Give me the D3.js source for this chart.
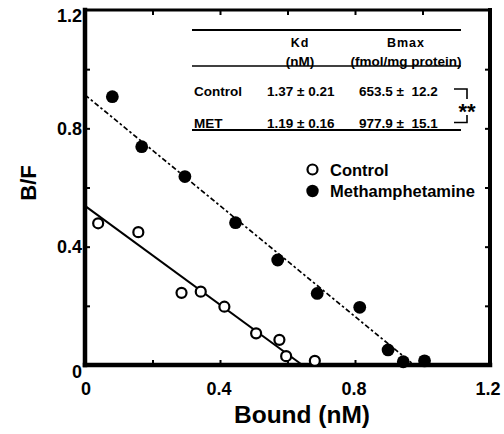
<!DOCTYPE html>
<html>
<head>
<meta charset="utf-8">
<script src="https://cdn.jsdelivr.net/npm/d3@7"></script>
<style>
  html, body { margin: 0; padding: 0; background: #fff; }
  svg { display: block; font-family: "Liberation Sans", Arial, sans-serif; font-weight: bold; }
</style>
</head>
<body>
<svg id="chart" width="504" height="434"></svg>
<script>
// Scatchard data: bound (nM) vs bound/free
const controlBound = [0.039, 0.158, 0.286, 0.343, 0.413, 0.507, 0.576, 0.596, 0.681];
const controlBF    = [0.479, 0.449, 0.244, 0.248, 0.197, 0.107, 0.085, 0.030, 0.014];
const metBound = [0.081, 0.168, 0.296, 0.446, 0.571, 0.688, 0.814, 0.898, 0.943, 1.006];
const metBF    = [0.907, 0.738, 0.637, 0.481, 0.355, 0.242, 0.195, 0.051, 0.011, 0.014];

// Regression lines (bound, B/F) end points
const controlFitX = [0, 0.644];
const controlFitY = [0.538, 0];
const metFitX = [0, 0.975];
const metFitY = [0.913, 0];

// Axis ticks
const majorTicks = [0, 0.4, 0.8, 1.2];
const minorTicks = [0.2, 0.4, 0.6, 0.8, 1.0];

// Summary table
const tableHeaders = [["Kd", "(nM)"], ["Bmax", "(fmol/mg protein)"]];
const tableRows = ["Control", "MET"];
const kdValues = ["1.37 \u00b1 0.21", "1.19 \u00b1 0.16"];
const bmaxValues = ["653.5 \u00b1  12.2", "977.9 \u00b1  15.1"];
const legendLabels = ["Control", "Methamphetamine"];

const svg = d3.select("#chart");
const x = d3.scaleLinear().domain([0, 1.2]).range([85, 490]);
const y = d3.scaleLinear().domain([0, 1.2]).range([365, 10]);

// inward minor ticks on all four sides
const tickStyle = g => {
  g.select(".domain").remove();
  g.selectAll(".tick line").attr("stroke", "#000").attr("stroke-width", 2);
  g.selectAll(".tick text").remove();
};
svg.append("g").attr("transform", `translate(${x(0)},0)`)
  .call(d3.axisLeft(y).tickValues(minorTicks).tickSize(-5)).call(tickStyle);
svg.append("g").attr("transform", `translate(${x(1.2)},0)`)
  .call(d3.axisRight(y).tickValues(minorTicks).tickSize(-5)).call(tickStyle);
svg.append("g").attr("transform", `translate(0,${y(0)})`)
  .call(d3.axisBottom(x).tickValues(minorTicks).tickSize(-5)).call(tickStyle);
svg.append("g").attr("transform", `translate(0,${y(1.2)})`)
  .call(d3.axisTop(x).tickValues(minorTicks).tickSize(-5)).call(tickStyle);

// frame
const frame = svg.append("g").attr("stroke", "#000").attr("stroke-linecap", "square");
frame.append("line").attr("x1", x(0)).attr("x2", x(0)).attr("y1", y(1.2)).attr("y2", y(0)).attr("stroke-width", 4.5);
frame.append("line").attr("x1", x(0)).attr("x2", x(1.2)).attr("y1", y(0)).attr("y2", y(0)).attr("stroke-width", 4.5);
frame.append("line").attr("x1", x(1.2)).attr("x2", x(1.2)).attr("y1", y(1.2)).attr("y2", y(0)).attr("stroke-width", 4);
frame.append("line").attr("x1", x(0)).attr("x2", x(1.2)).attr("y1", y(1.2)).attr("y2", y(1.2)).attr("stroke-width", 3);

// tick labels
svg.append("g").selectAll("text").data(majorTicks).join("text")
  .attr("x", 82).attr("y", d => y(d) + 6.5 + (d === 0 ? 6 : d === 1.2 ? 5 : 0))
  .attr("text-anchor", "end").attr("font-size", 18)
  .text(d => d === 0 ? "0" : d3.format(".1f")(d));
svg.append("g").selectAll("text").data(majorTicks).join("text")
  .attr("x", d => x(d) + (d === 0 ? 1 : d === 1.2 ? -2 : -1)).attr("y", 395)
  .attr("text-anchor", "middle").attr("font-size", 18)
  .text(d => d === 0 ? "0" : d3.format(".1f")(d));

// axis titles
svg.append("text").attr("x", 302).attr("y", 423).attr("text-anchor", "middle")
  .attr("font-size", 24.5).text("Bound (nM)");
svg.append("text").attr("transform", "translate(36,183) rotate(-90)")
  .attr("text-anchor", "middle").attr("font-size", 22).text("B/F");

// fitted lines
const line = d3.line().x(d => x(d[0])).y(d => y(d[1]));
svg.append("path").datum(d3.zip(controlFitX, controlFitY)).attr("d", line)
  .attr("fill", "none").attr("stroke", "#000").attr("stroke-width", 2);
svg.append("path").datum(d3.zip(metFitX, metFitY)).attr("d", line)
  .attr("fill", "none").attr("stroke", "#000").attr("stroke-width", 1.7)
  .attr("stroke-dasharray", "5,2.5,2.5,2.5");

// points
svg.append("g").selectAll("circle").data(d3.zip(controlBound, controlBF)).join("circle")
  .attr("cx", d => x(d[0])).attr("cy", d => y(d[1])).attr("r", 5)
  .attr("fill", "#fff").attr("stroke", "#000").attr("stroke-width", 2.2);
svg.append("g").selectAll("circle").data(d3.zip(metBound, metBF)).join("circle")
  .attr("cx", d => x(d[0])).attr("cy", d => y(d[1])).attr("r", 6.4)
  .attr("fill", "#000");

// legend
svg.append("circle").attr("cx", 312.5).attr("cy", 169.5).attr("r", 5)
  .attr("fill", "#fff").attr("stroke", "#000").attr("stroke-width", 2.2);
svg.append("circle").attr("cx", 312.5).attr("cy", 191).attr("r", 6.2).attr("fill", "#000");
svg.append("g").selectAll("text").data(legendLabels).join("text")
  .attr("x", 330).attr("y", (d, i) => 175.5 + i * 21.5)
  .attr("font-size", 16.5).text(d => d);

// summary table
const table = svg.append("g");
const rule = (yy, w) => table.append("line").attr("x1", 192).attr("x2", 461)
  .attr("y1", yy).attr("y2", yy).attr("stroke", "#000").attr("stroke-width", w);
rule(30, 1.8);
rule(66, 1.6);
rule(130, 1.8);
const colX = [300, 406];
tableHeaders.forEach((h, i) => {
  table.append("text").attr("x", colX[i]).attr("y", 47).attr("text-anchor", "middle")
    .attr("font-size", 12.5).attr("letter-spacing", 1).text(h[0]);
  table.append("text").attr("x", colX[i]).attr("y", 66).attr("text-anchor", "middle")
    .attr("font-size", 13.5).text(h[1]);
});
tableRows.forEach((r, i) => {
  const yy = 95.5 + i * 32;
  table.append("text").attr("x", 194).attr("y", yy).attr("font-size", 13.5).text(r);
  table.append("text").attr("x", 267).attr("y", yy).attr("font-size", 13.5).text(kdValues[i]);
  table.append("text").attr("x", 359).attr("y", yy).attr("font-size", 13.5)
    .style("white-space", "pre").text(bmaxValues[i]);
});
// significance bracket
table.append("path").attr("d", "M454,89H467V99M467,115V122.5H454")
  .attr("fill", "none").attr("stroke", "#000").attr("stroke-width", 1.6);
table.append("text").attr("x", 467).attr("y", 119).attr("text-anchor", "middle")
  .attr("font-size", 22).text("**");
</script>
</body>
</html>
